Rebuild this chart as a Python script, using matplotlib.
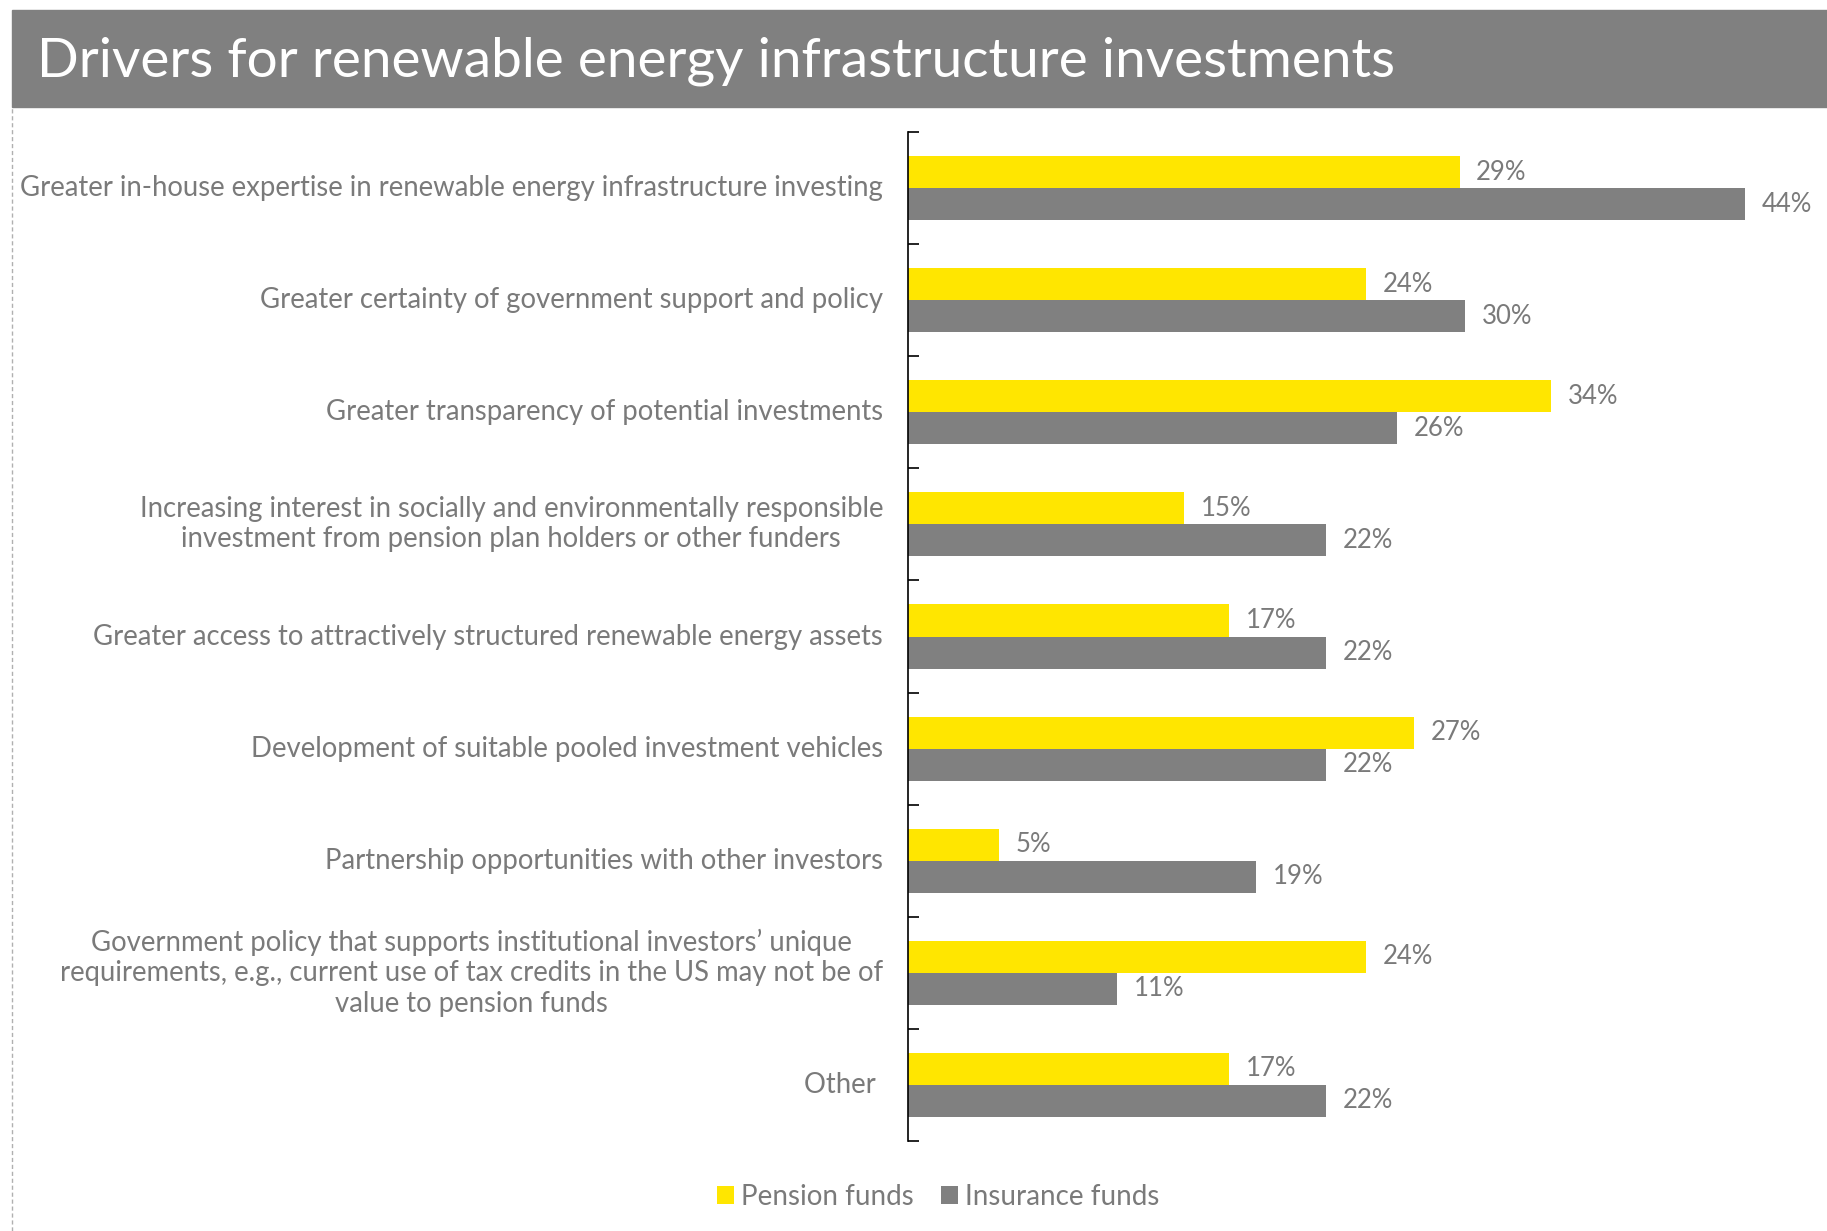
import numpy as np
import matplotlib.pyplot as plt
from matplotlib.patches import Rectangle
from matplotlib.lines import Line2D

plt.rcParams['font.family'] = ['Lato', 'DejaVu Sans']

categories = [
    "Greater in-house expertise in renewable energy infrastructure investing",
    "Greater certainty of government support and policy",
    "Greater transparency of potential investments",
    "Increasing interest in socially and environmentally responsible\ninvestment from pension plan holders or other funders",
    "Greater access to attractively structured renewable energy assets",
    "Development of suitable pooled investment vehicles",
    "Partnership opportunities with other investors",
    "Government policy that supports institutional investors\u2019 unique\nrequirements, e.g., current use of tax credits in the US may not be of\nvalue to pension funds",
    "Other ",
]
# bar lengths as drawn in the original (unrounded) and the printed labels
pension = [29.0, 24.1, 33.8, 14.5, 16.9, 26.6, 4.8, 24.1, 16.9]
insurance = [44.0, 29.3, 25.7, 22.0, 22.0, 22.0, 18.3, 11.0, 22.0]
pension_labels = [29, 24, 34, 15, 17, 27, 5, 24, 17]
insurance_labels = [44, 30, 26, 22, 22, 22, 19, 11, 22]
series_names = ["Pension funds", "Insurance funds"]

yellow = '#FFE600'
grey = '#808080'
text_grey = '#7a7a7a'

W, H = 1827, 1231
fig = plt.figure(figsize=(W / 100, H / 100), dpi=100)

# title band
fig.patches.append(Rectangle((12 / W, 1 - 107 / H), 1, 97 / H,
                             transform=fig.transFigure, color=grey, zorder=0))
fig.text(37 / W, 1 - 77 / H, "Drivers for renewable energy infrastructure investments",
         color='white', fontsize=39.6, va='baseline', ha='left')
# dashed frame line on the left
fig.add_artist(Line2D([12 / W, 12 / W], [0, 1 - 107 / H], transform=fig.transFigure,
                      color='#b0b0b0', lw=1, ls=(0, (3, 2))))

ax = fig.add_axes([908 / W, 1 - 1141 / H, 1 - 908 / W, (1141 - 132) / H])

n = len(categories)
y = np.arange(n)
h = 32 / 112
ax.barh(y - h / 2, pension, height=h, color=yellow, label=series_names[0])
ax.barh(y + h / 2, insurance, height=h, color=grey, label=series_names[1])

for i in range(n):
    ax.annotate(f"{pension_labels[i]}%", (pension[i], y[i] - h / 2), xytext=(12, 0),
                textcoords='offset points', va='center', ha='left', fontsize=18.5, color=text_grey)
    ax.annotate(f"{insurance_labels[i]}%", (insurance[i], y[i] + h / 2), xytext=(12, 0),
                textcoords='offset points', va='center', ha='left', fontsize=18.5, color=text_grey)
    ax.annotate(categories[i], (0, y[i]), xytext=(-18, 0), textcoords='offset points',
                va='center', ha='right', multialignment='center', fontsize=19.8,
                color=text_grey, linespacing=1.2)

ax.set_ylim(n - 0.5, -0.5)
ax.set_xlim(0, (W - 908) / 19.02)
ax.set_yticks(np.arange(n + 1) - 0.5)
ax.set_yticklabels([])
ax.tick_params(axis='y', direction='in', length=8, width=1.2, color='black')
ax.set_xticks([])
for s in ['top', 'right', 'bottom']:
    ax.spines[s].set_visible(False)
ax.spines['left'].set_linewidth(1.2)

fig.legend(loc='center', bbox_to_anchor=(938 / W, 1 - 1197 / H), ncol=2, frameon=False,
           fontsize=20, labelcolor=text_grey, handlelength=0.6, handleheight=0.6,
           handletextpad=0.25, columnspacing=1.0)

fig.savefig('out.png', dpi=100)
